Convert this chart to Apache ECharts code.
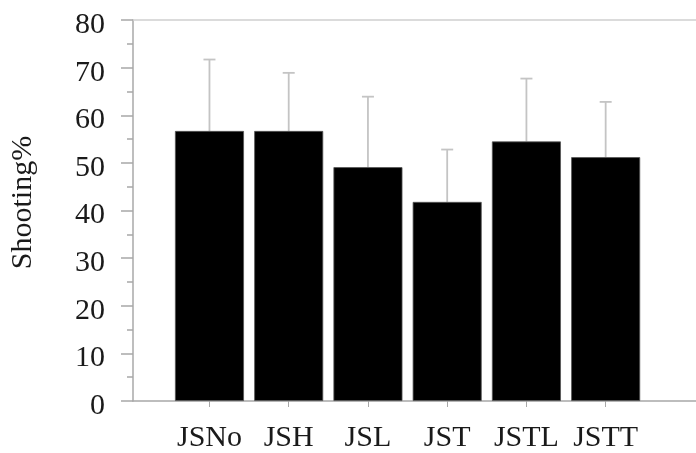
<!DOCTYPE html>
<html>
<head>
<meta charset="utf-8">
<script src="https://cdn.jsdelivr.net/npm/echarts@6/dist/echarts.min.js"></script>
<style>html,body{margin:0;padding:0;background:#fff}#c{width:696px;height:453px}</style>
</head>
<body>
<div id="c"></div>
<script>
var categories = ['JSNo', 'JSH', 'JSL', 'JST', 'JSTL', 'JSTT'];
var means = [56.7, 56.7, 49.1, 41.8, 54.5, 51.2];
var sds = [15.0, 12.2, 14.8, 11.0, 13.2, 11.6];
var yTicks = [0, 10, 20, 30, 40, 50, 60, 70, 80];

var idx = categories.map(function (c, i) { return i; });
var barData = means.map(function (m, i) { return [i, m]; });
var errData = means.map(function (m, i) { return [i, m, m + sds[i]]; });
var font = 'Liberation Serif';

var chart = echarts.init(document.getElementById('c'), null, {renderer: 'canvas'});
chart.setOption({
  animation: false,
  grid: {left: 129, right: 0, top: 20, bottom: 49, containLabel: false},
  xAxis: [{
    type: 'value', min: -0.965, max: 6.14,
    splitLine: {show: false},
    axisLine: {show: true, onZero: false, lineStyle: {color: '#a8a8a8', width: 1.5}},
    axisTick: {show: true, customValues: idx, length: 6, lineStyle: {color: '#a8a8a8', width: 1}},
    axisLabel: {show: true, customValues: idx, margin: 22, fontFamily: font, fontSize: 30, color: '#1a1a1a',
      formatter: function (v) { return categories[Math.round(v)]; }}
  }, {
    type: 'value', position: 'top', min: -0.965, max: 6.14,
    splitLine: {show: false},
    axisLine: {show: true, onZero: false, lineStyle: {color: '#cfcfcf', width: 1.5}},
    axisTick: {show: false}, axisLabel: {show: false}
  }],
  yAxis: {
    type: 'value', min: 0, max: 80, interval: 10,
    name: 'Shooting%', nameLocation: 'middle', nameGap: 95,
    nameTextStyle: {fontFamily: font, fontSize: 30, color: '#1a1a1a', padding: [0, 0, 0, 16]},
    splitLine: {show: false},
    axisLine: {show: true, onZero: false, lineStyle: {color: '#a8a8a8', width: 1.5}},
    axisTick: {show: true, length: 12, lineStyle: {color: '#a8a8a8', width: 1.5}},
    minorTick: {show: true, splitNumber: 2, length: 6, lineStyle: {color: '#a8a8a8', width: 1.5}},
    axisLabel: {margin: 28, fontFamily: font, fontSize: 30, color: '#1a1a1a',
      verticalAlign: 'top', lineHeight: 10, customValues: yTicks}
  },
  series: [{
    type: 'bar', data: barData, barWidth: 69,
    itemStyle: {color: '#000', borderColor: '#555', borderWidth: 0.8},
    z: 2
  }, {
    type: 'custom', data: errData, z: 1,
    renderItem: function (params, api) {
      var x = api.value(0);
      var p0 = api.coord([x, api.value(1)]);
      var p1 = api.coord([x, api.value(2)]);
      var cap = 6;
      return {
        type: 'group',
        children: [{
          type: 'line', shape: {x1: p0[0], y1: p0[1], x2: p1[0], y2: p1[1]},
          style: {stroke: '#c4c4c4', lineWidth: 1.8}
        }, {
          type: 'line', shape: {x1: p1[0] - cap, y1: p1[1], x2: p1[0] + cap, y2: p1[1]},
          style: {stroke: '#c4c4c4', lineWidth: 1.8}
        }]
      };
    }
  }]
});
</script>
</body>
</html>
